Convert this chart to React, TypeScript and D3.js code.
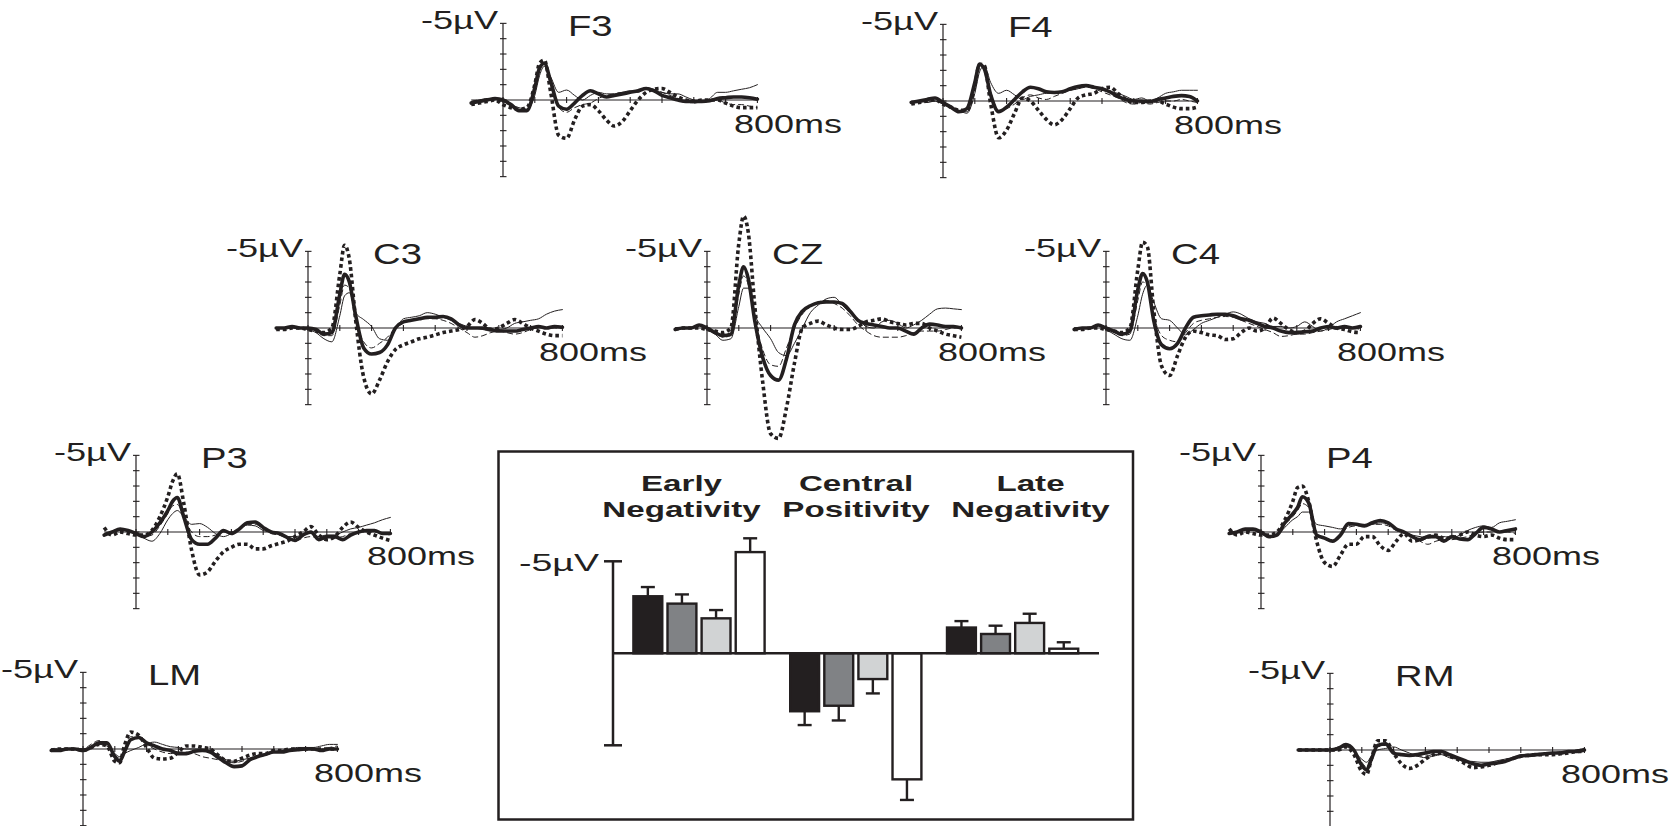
import React from "react";
import * as d3 from "d3";

// ---------- DATA ----------
// time samples (ms) shared by every waveform
const TIMES = [-100, -75, -50, -25, 0, 25, 50, 75, 100, 115, 130, 150, 175, 200, 225, 250, 275, 300, 325, 350, 375, 400, 425, 450, 475, 500, 525, 550, 575, 600, 625, 650, 675, 700, 725, 750, 775, 800];
const X_TICKS = [0, 100, 200, 300, 400, 500, 600, 700, 800];
const Y_TICKS = [-5, -4, -3, -2, -1, 0, 1, 2, 3, 4, 5];
const CHANNELS = ["F3", "F4", "C3", "CZ", "C4", "P3", "P4", "LM", "RM"];
const Y_LABEL = "-5\u00B5V";
const X_LABEL = "800ms";

// amplitudes in µV (negative plotted up)
const F3_THICK = [0.2, 0.1, 0.0, -0.1, 0.0, 0.3, 0.7, 0.7, -0.8, -2.1, -2.4, -1.2, 0.4, 0.6, 0.2, -0.3, -0.6, -0.4, -0.2, -0.3, -0.4, -0.5, -0.6, -0.75, -0.6, -0.3, -0.15, 0.0, 0.1, 0.1, 0.1, 0.05, -0.1, -0.15, -0.2, -0.2, -0.15, -0.05];
const F3_THIN = [0.1, 0.0, -0.1, -0.1, 0.1, 0.3, 0.5, 0.6, -0.3, -1.6, -2.2, -1.5, -0.5, -0.65, -0.3, 0.0, -0.3, -0.5, -0.4, -0.4, -0.5, -0.6, -0.5, -0.8, -0.6, -0.5, -0.4, -0.4, -0.2, 0.0, 0.1, -0.1, -0.5, -0.5, -0.6, -0.7, -0.8, -1.0];
const F3_DOTTED = [0.3, 0.2, 0.1, 0.0, 0.3, 0.5, 0.6, 0.5, -1.0, -2.4, -2.6, -0.5, 2.3, 2.5, 1.3, 0.4, 0.3, 0.7, 1.3, 1.7, 1.4, 0.7, 0.0, -0.5, -0.7, -0.75, -0.5, -0.2, 0.0, 0.1, 0.0, 0.0, 0.0, 0.2, 0.4, 0.5, 0.5, 0.5];
const F3_DASHED = [0.1, 0.0, 0.0, 0.0, 0.1, 0.4, 0.6, 0.6, -0.6, -1.9, -2.3, -1.0, 0.5, 0.8, 0.5, 0.3, 0.2, -0.1, -0.3, -0.4, -0.5, -0.5, -0.6, -0.8, -0.7, -0.5, -0.3, -0.1, 0.1, 0.2, 0.1, 0.0, 0.0, 0.2, 0.3, 0.3, 0.4, 0.5];

const F4_THICK = [0.1, 0.0, -0.1, -0.2, 0.1, 0.4, 0.7, 0.5, -1.2, -2.4, -2.1, -0.4, 0.7, 0.4, -0.1, -0.6, -0.9, -0.8, -0.6, -0.55, -0.6, -0.8, -0.95, -1.0, -0.9, -0.8, -0.6, -0.3, -0.1, 0.0, 0.0, 0.05, -0.1, -0.2, -0.3, -0.35, -0.3, 0.0];
const F4_THIN = [0.1, 0.0, 0.1, 0.0, 0.2, 0.4, 0.6, 0.8, -0.5, -1.9, -2.3, -1.2, -0.5, -0.7, -0.4, -0.1, -0.3, -0.4, -0.5, -0.5, -0.6, -0.7, -0.8, -1.0, -0.9, -0.7, -0.6, -0.5, -0.3, -0.1, -0.2, 0.0, -0.2, -0.5, -0.6, -0.7, -0.7, -0.7];
const F4_DOTTED = [0.2, 0.1, 0.0, -0.1, 0.2, 0.4, 0.6, 0.6, -1.0, -2.4, -2.3, 0.2, 2.4, 1.9, 0.8, -0.2, 0.0, 0.6, 1.2, 1.55, 1.2, 0.5, -0.2, -0.4, -0.5, -0.8, -0.9, -0.5, -0.1, 0.1, 0.1, 0.0, 0.0, 0.2, 0.4, 0.5, 0.5, 0.4];
const F4_DASHED = [0.1, 0.1, 0.0, 0.0, 0.2, 0.5, 0.7, 0.7, -0.8, -2.2, -2.2, -0.6, 0.6, 0.5, 0.2, -0.2, -0.4, -0.2, -0.1, -0.3, -0.5, -0.7, -0.8, -0.9, -0.8, -0.6, -0.4, -0.2, 0.1, 0.2, 0.1, 0.2, 0.1, 0.0, 0.0, -0.1, 0.0, 0.1];

const C3_THICK = [0.0, 0.0, -0.1, 0.0, 0.0, 0.1, 0.4, 0.3, -2.2, -3.5, -3.0, -0.8, 1.3, 1.7, 1.6, 1.1, 0.0, -0.4, -0.5, -0.6, -0.7, -0.7, -0.75, -0.6, -0.2, 0.0, 0.0, 0.0, 0.1, 0.2, 0.2, 0.2, 0.1, 0.0, -0.1, 0.0, -0.1, -0.05];
const C3_THIN = [0.1, 0.0, 0.0, 0.0, 0.1, 0.3, 0.7, 0.9, -0.8, -2.1, -2.3, -1.0, -0.55, -0.1, 0.7, 0.8, 0.1, -0.6, -0.7, -0.8, -1.0, -0.9, -0.7, -0.5, -0.3, -0.1, 0.0, 0.1, 0.2, 0.1, 0.0, -0.3, -0.4, -0.5, -0.6, -0.9, -1.1, -1.2];
const C3_DOTTED = [0.1, 0.1, 0.0, 0.0, 0.1, 0.2, 0.3, 0.0, -3.5, -5.4, -4.5, -0.5, 3.2, 4.3, 3.4, 2.2, 1.4, 1.1, 0.9, 0.7, 0.6, 0.45, 0.3, 0.2, 0.1, -0.1, -0.55, -0.3, 0.1, 0.0, -0.3, -0.55, -0.3, 0.0, 0.2, 0.4, 0.5, 0.5];
const C3_DASHED = [0.0, 0.0, 0.0, 0.0, 0.0, 0.2, 0.5, 0.5, -1.5, -2.8, -2.6, -0.6, 0.9, 1.3, 1.0, 0.6, 0.0, -0.3, -0.5, -0.6, -0.6, -0.6, -0.5, -0.3, 0.0, 0.3, 0.6, 0.5, 0.3, 0.2, 0.3, 0.4, 0.3, 0.1, 0.0, 0.0, 0.0, 0.0];

const CZ_THICK = [0.1, 0.0, 0.0, -0.2, 0.0, 0.3, 0.5, 0.4, -2.8, -4.0, -3.2, -0.5, 1.9, 3.1, 3.4, 2.0, -0.2, -1.1, -1.45, -1.65, -1.7, -1.7, -1.6, -1.1, -0.5, -0.3, -0.2, -0.1, 0.0, 0.0, 0.2, 0.4, 0.0, -0.25, -0.2, -0.1, -0.1, 0.0];
const CZ_THIN = [0.0, 0.0, 0.0, -0.2, 0.1, 0.4, 0.8, 0.7, -1.4, -2.6, -2.6, -0.9, 0.0, 0.7, 1.6, 1.8, 1.0, 0.0, -1.0, -1.5, -1.9, -2.0, -1.5, -1.0, -0.6, -0.1, 0.0, -0.4, -0.5, -0.3, 0.0, -0.2, -0.5, -0.9, -1.25, -1.3, -1.25, -1.2];
const CZ_DOTTED = [0.1, 0.0, 0.0, 0.0, 0.1, 0.2, 0.3, 0.0, -5.5, -7.3, -6.2, -1.5, 3.5, 6.9, 7.2, 5.2, 2.3, 0.0, -0.3, -0.45, -0.2, 0.0, 0.1, 0.1, -0.1, -0.4, -0.5, -0.6, -0.4, -0.3, -0.2, -0.3, -0.3, 0.0, 0.2, 0.4, 0.5, 0.6];
const CZ_DASHED = [0.0, 0.0, 0.0, -0.1, 0.0, 0.3, 0.6, 0.5, -2.2, -3.4, -2.8, -0.6, 1.4, 2.4, 2.5, 1.3, 0.0, -0.9, -1.4, -1.7, -1.8, -1.6, -1.3, -0.8, -0.2, 0.2, 0.5, 0.6, 0.6, 0.6, 0.5, 0.3, 0.2, 0.2, 0.2, 0.1, 0.0, 0.0];

const C4_THICK = [0.1, 0.0, 0.0, -0.2, 0.0, 0.2, 0.4, 0.2, -2.5, -3.55, -3.0, -0.5, 1.1, 1.35, 1.0, 0.0, -0.7, -0.8, -0.85, -0.9, -0.9, -0.8, -0.6, -0.5, -0.3, -0.1, 0.0, 0.2, 0.3, 0.3, 0.25, 0.2, 0.0, -0.1, 0.0, -0.1, 0.0, -0.1];
const C4_THIN = [0.0, 0.0, 0.0, -0.2, 0.1, 0.4, 0.7, 0.8, -0.8, -2.2, -2.8, -1.7, -0.6, -0.5, 0.0, 0.45, 0.1, -0.3, -0.5, -0.7, -0.9, -1.05, -0.9, -0.6, -0.4, -0.3, -0.1, -0.1, 0.0, -0.1, -0.4, -0.1, 0.2, 0.0, -0.4, -0.6, -0.8, -1.0];
const C4_DOTTED = [0.1, 0.1, 0.0, 0.0, 0.1, 0.2, 0.3, 0.0, -3.8, -5.6, -5.3, -1.2, 2.5, 3.1, 1.8, 0.6, 0.2, 0.3, 0.45, 0.5, 0.75, 0.7, 0.3, 0.0, 0.2, 0.0, -0.65, -0.3, 0.1, 0.3, 0.2, -0.3, -0.6, -0.3, 0.0, 0.1, 0.25, 0.3];
const C4_DASHED = [0.0, 0.0, 0.0, -0.1, 0.0, 0.3, 0.5, 0.4, -1.8, -3.0, -2.8, -0.8, 0.5, 0.8, 0.9, 0.3, -0.3, -0.5, -0.6, -0.7, -0.75, -0.7, -0.5, -0.3, -0.1, 0.1, 0.3, 0.55, 0.5, 0.4, 0.4, 0.3, 0.2, 0.1, 0.0, 0.0, 0.0, 0.1];

const P3_THICK = [0.2, 0.0, -0.2, -0.1, 0.1, 0.3, 0.0, -0.6, -1.4, -2.0, -2.25, -1.0, 0.5, 0.8, 0.8, 0.4, -0.1, 0.1, -0.2, -0.6, -0.65, -0.3, 0.0, 0.1, 0.35, 0.55, 0.2, 0.0, 0.5, 0.3, 0.3, 0.5, 0.2, 0.0, -0.1, -0.1, 0.1, 0.1];
const P3_THIN = [0.1, 0.0, -0.1, -0.1, 0.1, 0.4, 0.6, 0.1, -0.8, -1.2, -1.4, -1.0, -0.5, -0.55, -0.3, 0.1, 0.3, 0.1, -0.2, -0.45, -0.4, -0.1, 0.0, 0.1, 0.3, 0.3, 0.2, 0.1, 0.3, 0.2, 0.2, 0.0, -0.2, -0.3, -0.45, -0.6, -0.8, -0.95];
const P3_DOTTED = [-0.3, 0.2, 0.0, 0.1, 0.2, 0.2, -0.1, -1.0, -2.3, -3.3, -3.8, -1.9, 1.2, 2.8, 2.6, 1.9, 1.3, 1.0, 0.8, 0.8, 1.1, 1.1, 0.9, 0.75, 0.6, 0.3, 0.0, -0.35, 0.2, 0.5, 0.3, -0.3, -0.65, -0.3, 0.0, 0.2, 0.4, 0.55];
const P3_DASHED = [0.1, 0.0, -0.1, -0.1, 0.1, 0.3, 0.2, -0.4, -1.2, -1.7, -1.8, -1.0, 0.0, 0.3, 0.3, 0.2, 0.0, 0.0, -0.2, -0.5, -0.5, -0.2, 0.1, 0.2, 0.4, 0.6, 0.4, 0.3, 0.4, 0.5, 0.4, 0.3, 0.1, 0.0, 0.0, 0.0, 0.1, 0.2];

const P4_THICK = [0.1, 0.0, -0.2, -0.2, 0.0, 0.3, 0.2, -0.6, -1.2, -1.6, -2.3, -1.9, 0.2, 0.4, 0.6, 0.2, -0.55, -0.5, -0.4, -0.6, -0.75, -0.6, -0.2, 0.0, 0.3, 0.5, 0.3, 0.3, 0.6, 0.3, 0.45, 0.5, 0.1, -0.3, -0.2, 0.0, -0.1, -0.2];
const P4_THIN = [0.0, 0.0, -0.1, -0.1, 0.1, 0.3, 0.2, -0.3, -0.8, -1.0, -1.3, -1.3, -0.5, -0.4, -0.3, -0.2, -0.4, -0.5, -0.5, -0.5, -0.6, -0.5, -0.2, 0.0, 0.2, 0.3, 0.4, 0.3, 0.3, 0.4, 0.2, -0.1, -0.3, -0.4, -0.3, -0.6, -0.7, -0.8];
const P4_DOTTED = [-0.2, 0.2, 0.0, 0.1, 0.2, 0.2, 0.0, -0.8, -2.0, -2.9, -3.0, -2.0, 0.6, 2.0, 2.25, 1.5, 0.8, 0.8, 0.3, 0.3, 0.9, 1.2, 0.6, 0.1, 0.6, 0.5, 0.3, 0.2, 0.4, 0.4, 0.2, 0.0, 0.2, 0.3, 0.2, 0.4, 0.5, 0.5];
const P4_DASHED = [0.0, 0.0, -0.1, -0.1, 0.1, 0.3, 0.1, -0.5, -1.0, -1.4, -1.85, -1.6, 0.0, 0.4, 0.5, 0.1, -0.3, -0.4, -0.4, -0.5, -0.5, -0.4, -0.1, 0.1, 0.3, 0.6, 0.8, 0.6, 0.5, 0.5, 0.4, 0.3, 0.1, 0.0, 0.0, 0.0, 0.0, 0.1];

const LM_THICK = [0.1, 0.1, 0.0, 0.0, 0.1, -0.1, -0.4, -0.4, 0.5, 0.8, 0.2, -0.6, -0.75, -0.4, -0.2, 0.0, 0.1, 0.3, 0.3, 0.15, 0.1, 0.2, 0.55, 0.9, 1.15, 1.1, 0.7, 0.5, 0.35, 0.2, 0.2, 0.1, 0.05, 0.0, 0.0, 0.1, 0.0, 0.0];
const LM_THIN = [0.0, 0.0, 0.0, 0.0, 0.1, -0.1, -0.3, -0.2, 0.3, 0.5, 0.3, 0.1, -0.1, -0.35, -0.45, -0.3, -0.15, -0.1, 0.0, 0.0, 0.0, 0.1, 0.4, 0.7, 0.8, 0.7, 0.6, 0.5, 0.4, 0.2, 0.1, 0.0, -0.1, -0.1, -0.1, -0.2, -0.3, -0.3];
const LM_DOTTED = [0.1, 0.0, 0.0, 0.0, 0.1, -0.1, -0.3, -0.2, 0.8, 0.9, -0.2, -1.1, -0.9, -0.1, 0.6, 0.65, 0.6, 0.2, -0.2, -0.2, -0.1, 0.0, 0.4, 0.75, 0.8, 0.6, 0.4, 0.3, 0.3, 0.1, 0.1, 0.0, 0.0, 0.0, 0.0, 0.0, 0.0, 0.0];
const LM_DASHED = [0.0, 0.0, 0.0, 0.0, 0.0, -0.3, -0.55, -0.3, 0.4, 0.6, 0.0, -0.8, -0.7, -0.3, 0.0, 0.2, 0.3, 0.2, 0.2, 0.3, 0.5, 0.6, 0.7, 0.8, 0.9, 0.8, 0.6, 0.4, 0.3, 0.2, 0.1, 0.0, 0.0, 0.0, 0.0, 0.0, -0.1, -0.2];

const RM_THICK = [0.0, 0.0, 0.0, 0.0, 0.0, -0.1, -0.35, 0.0, 1.0, 1.3, 0.6, -0.3, -0.4, 0.2, 0.3, 0.35, 0.3, 0.2, 0.1, 0.1, 0.3, 0.5, 0.7, 0.9, 1.0, 0.9, 0.85, 0.75, 0.55, 0.4, 0.35, 0.3, 0.25, 0.2, 0.2, 0.1, 0.1, 0.0];
const RM_THIN = [0.0, 0.0, 0.0, 0.0, 0.0, -0.1, -0.2, 0.1, 0.6, 0.8, 0.4, 0.0, -0.1, -0.2, 0.0, 0.2, 0.4, 0.5, 0.4, 0.3, 0.5, 0.6, 0.7, 0.75, 0.8, 0.8, 0.7, 0.6, 0.5, 0.4, 0.3, 0.3, 0.2, 0.2, 0.1, 0.1, 0.0, -0.1];
const RM_DOTTED = [0.0, 0.0, 0.0, 0.0, 0.0, 0.0, -0.2, 0.3, 1.4, 1.6, 0.6, -0.6, -0.6, 0.2, 0.9, 1.2, 1.0, 0.6, 0.3, 0.2, 0.4, 0.6, 0.9, 1.15, 1.1, 1.0, 0.85, 0.7, 0.55, 0.4, 0.35, 0.3, 0.3, 0.3, 0.25, 0.2, 0.1, 0.1];
const RM_DASHED = [0.0, 0.0, 0.0, 0.0, 0.0, -0.2, -0.3, 0.0, 0.8, 1.1, 0.5, -0.2, -0.3, 0.1, 0.3, 0.3, 0.4, 0.4, 0.3, 0.3, 0.4, 0.6, 0.8, 0.9, 0.95, 0.9, 0.85, 0.7, 0.6, 0.45, 0.35, 0.3, 0.3, 0.2, 0.15, 0.1, 0.0, -0.1];

const WAVES: Record<string, number[][]> = {
  F3: [F3_DASHED, F3_THIN, F3_DOTTED, F3_THICK],
  F4: [F4_DASHED, F4_THIN, F4_DOTTED, F4_THICK],
  C3: [C3_DASHED, C3_THIN, C3_DOTTED, C3_THICK],
  CZ: [CZ_DASHED, CZ_THIN, CZ_DOTTED, CZ_THICK],
  C4: [C4_DASHED, C4_THIN, C4_DOTTED, C4_THICK],
  P3: [P3_DASHED, P3_THIN, P3_DOTTED, P3_THICK],
  P4: [P4_DASHED, P4_THIN, P4_DOTTED, P4_THICK],
  LM: [LM_DASHED, LM_THIN, LM_DOTTED, LM_THICK],
  RM: [RM_DASHED, RM_THIN, RM_DOTTED, RM_THICK],
};

// bar chart data (µV, negative plotted up)
const BAR_GROUPS = ["Early Negativity", "Central Positivity", "Late Negativity"];
const BAR_GROUP_LINES = [["Early", "Negativity"], ["Central", "Positivity"], ["Late", "Negativity"]];
const BAR_CONDITIONS = ["c1", "c2", "c3", "c4"];
const EARLY_NEG = [-3.1, -2.7, -1.9, -5.5];
const CENTRAL_POS = [3.15, 2.85, 1.4, 6.85];
const LATE_NEG = [-1.4, -1.05, -1.65, -0.25];
const EARLY_ERR = [0.5, 0.5, 0.45, 0.75];
const CENTRAL_ERR = [0.75, 0.8, 0.78, 1.12];
const LATE_ERR = [0.35, 0.45, 0.5, 0.35];
const BAR_VALUES = [EARLY_NEG, CENTRAL_POS, LATE_NEG];
const BAR_ERRORS = [EARLY_ERR, CENTRAL_ERR, LATE_ERR];

// ---------- LAYOUT / STYLE ----------
const FONT = "'Liberation Sans', Arial, Helvetica, sans-serif";
const INK = "#231f20";
const BAR_FILLS = ["#231f20", "#808285", "#d1d3d4", "#ffffff"];
// panel origin: x of y-axis (t = 0), y of 0 µV
const PANEL_POS: Record<string, [number, number]> = {
  F3: [503, 100], F4: [943, 101],
  C3: [308, 328], CZ: [707, 328], C4: [1106, 328],
  P3: [136, 532], P4: [1261, 532],
  LM: [83, 749], RM: [1330, 750],
};
const PX_PER_MS = 0.318;
const PX_PER_UV = 15.33;
const LINE_STYLES = [
  { w: 1, dash: "6 3", cap: "butt" },
  { w: 1, dash: null, cap: "round" },
  { w: 3.6, dash: "3.6 3", cap: "butt" },
  { w: 3.6, dash: null, cap: "round" },
];

function Panel({ name }: { name: string }) {
  const [ax, zy] = PANEL_POS[name];
  const x = d3.scaleLinear().domain([0, 800]).range([ax, ax + 800 * PX_PER_MS]);
  const y = d3.scaleLinear().domain([0, 5]).range([zy, zy + 5 * PX_PER_UV]);
  const line = d3
    .line<number>()
    .x((_, i) => x(TIMES[i]))
    .y((v) => y(v))
    .curve(d3.curveMonotoneX);
  return (
    <g>
      <line x1={x(-100)} x2={x(800)} y1={y(0)} y2={y(0)} stroke={INK} strokeWidth={1.2} />
      {X_TICKS.map((t) => (
        <line key={"xt" + t} x1={x(t)} x2={x(t)} y1={y(0) - 3} y2={y(0) + 3} stroke={INK} strokeWidth={1.1} />
      ))}
      <line x1={x(0)} x2={x(0)} y1={y(-5)} y2={y(5)} stroke={INK} strokeWidth={1.2} />
      {Y_TICKS.map((v) => (
        <line key={"yt" + v} x1={x(0) - 3} x2={x(0) + 3.5} y1={y(v)} y2={y(v)} stroke={INK} strokeWidth={1.1} />
      ))}
      {WAVES[name].map((vals, i) => {
        const s = LINE_STYLES[i];
        return (
          <path
            key={i}
            d={line(vals) || ""}
            fill="none"
            stroke={INK}
            strokeWidth={s.w}
            strokeDasharray={s.dash || undefined}
            strokeLinecap={s.cap as any}
            strokeLinejoin="round"
          />
        );
      })}
      <text
        x={x(0) - 5}
        y={y(-5) + 6}
        textAnchor="end"
        fontFamily={FONT}
        fontSize={25}
        fill={INK}
        textLength={77}
        lengthAdjust="spacingAndGlyphs"
      >
        {Y_LABEL}
      </text>
      <text
        transform={`translate(${x(0) + 65},${y(0) - 64}) scale(1.32,1)`}
        fontFamily={FONT}
        fontSize={29}
        fill={INK}
      >
        {name}
      </text>
      <text
        x={x(0) + 231}
        y={y(0) + 33}
        fontFamily={FONT}
        fontSize={26}
        fill={INK}
        textLength={108}
        lengthAdjust="spacingAndGlyphs"
      >
        {X_LABEL}
      </text>
    </g>
  );
}

function BarChart() {
  const y = d3.scaleLinear().domain([-5, 5]).range([561.3, 745.3]);
  const x0 = d3.scaleBand().domain(BAR_GROUPS).range([620.6, 1091]).paddingInner(0).paddingOuter(0);
  const x1 = d3.scaleBand().domain(BAR_CONDITIONS).range([-65.6, 65.6]).paddingInner(0.153).paddingOuter(0);
  const labelX = d3.scalePoint().domain(BAR_GROUPS).range([681.5, 1030.5]);
  const axisX = 613;
  const cap = 7;
  return (
    <g>
      <rect x={498.5} y={451.5} width={634.5} height={368} fill="none" stroke={INK} strokeWidth={2.5} />
      {BAR_GROUP_LINES.map((lines, gi) => (
        <g key={"lab" + gi}>
          {lines.map((ln, li) => (
            <text
              key={li}
              transform={`translate(${labelX(BAR_GROUPS[gi])},${490.5 + li * 26.5}) scale(1.48,1)`}
              textAnchor="middle"
              fontFamily={FONT}
              fontWeight="bold"
              fontSize={22.4}
              fill={INK}
            >
              {ln}
            </text>
          ))}
        </g>
      ))}
      {BAR_GROUPS.map((g, gi) => {
        const gc = (x0(g) as number) + x0.bandwidth() / 2;
        return BAR_VALUES[gi].map((v, ci) => {
          const bx = gc + (x1(BAR_CONDITIONS[ci]) as number);
          const bw = x1.bandwidth();
          const cx = bx + bw / 2;
          const err = BAR_ERRORS[gi][ci];
          const end = v < 0 ? v - err : v + err;
          return (
            <g key={g + ci}>
              <line x1={cx} x2={cx} y1={y(v)} y2={y(end)} stroke={INK} strokeWidth={2.4} />
              <line x1={cx - cap} x2={cx + cap} y1={y(end)} y2={y(end)} stroke={INK} strokeWidth={2.4} />
              <rect
                x={bx}
                y={Math.min(y(0), y(v))}
                width={bw}
                height={Math.abs(y(v) - y(0))}
                fill={BAR_FILLS[ci]}
                stroke={INK}
                strokeWidth={2.4}
              />
            </g>
          );
        });
      })}
      <line x1={axisX} x2={1099} y1={y(0)} y2={y(0)} stroke={INK} strokeWidth={2.5} />
      <line x1={axisX} x2={axisX} y1={y(-5)} y2={y(5)} stroke={INK} strokeWidth={2.5} />
      <line x1={axisX - 9} x2={axisX + 9} y1={y(-5)} y2={y(-5)} stroke={INK} strokeWidth={2.5} />
      <line x1={axisX - 9} x2={axisX + 9} y1={y(5)} y2={y(5)} stroke={INK} strokeWidth={2.5} />
      <text
        x={axisX - 14}
        y={y(-5) + 9.5}
        textAnchor="end"
        fontFamily={FONT}
        fontSize={24}
        fill={INK}
        textLength={80}
        lengthAdjust="spacingAndGlyphs"
      >
        {Y_LABEL}
      </text>
    </g>
  );
}

export default function App() {
  return (
    <svg
      width={1672}
      height={826}
      viewBox="0 0 1672 826"
      style={{ position: "absolute", left: 0, top: 0, background: "#fff", display: "block" }}
    >
      <rect x={0} y={0} width={1672} height={826} fill="#fff" />
      {CHANNELS.map((c) => (
        <Panel key={c} name={c} />
      ))}
      <BarChart />
    </svg>
  );
}
